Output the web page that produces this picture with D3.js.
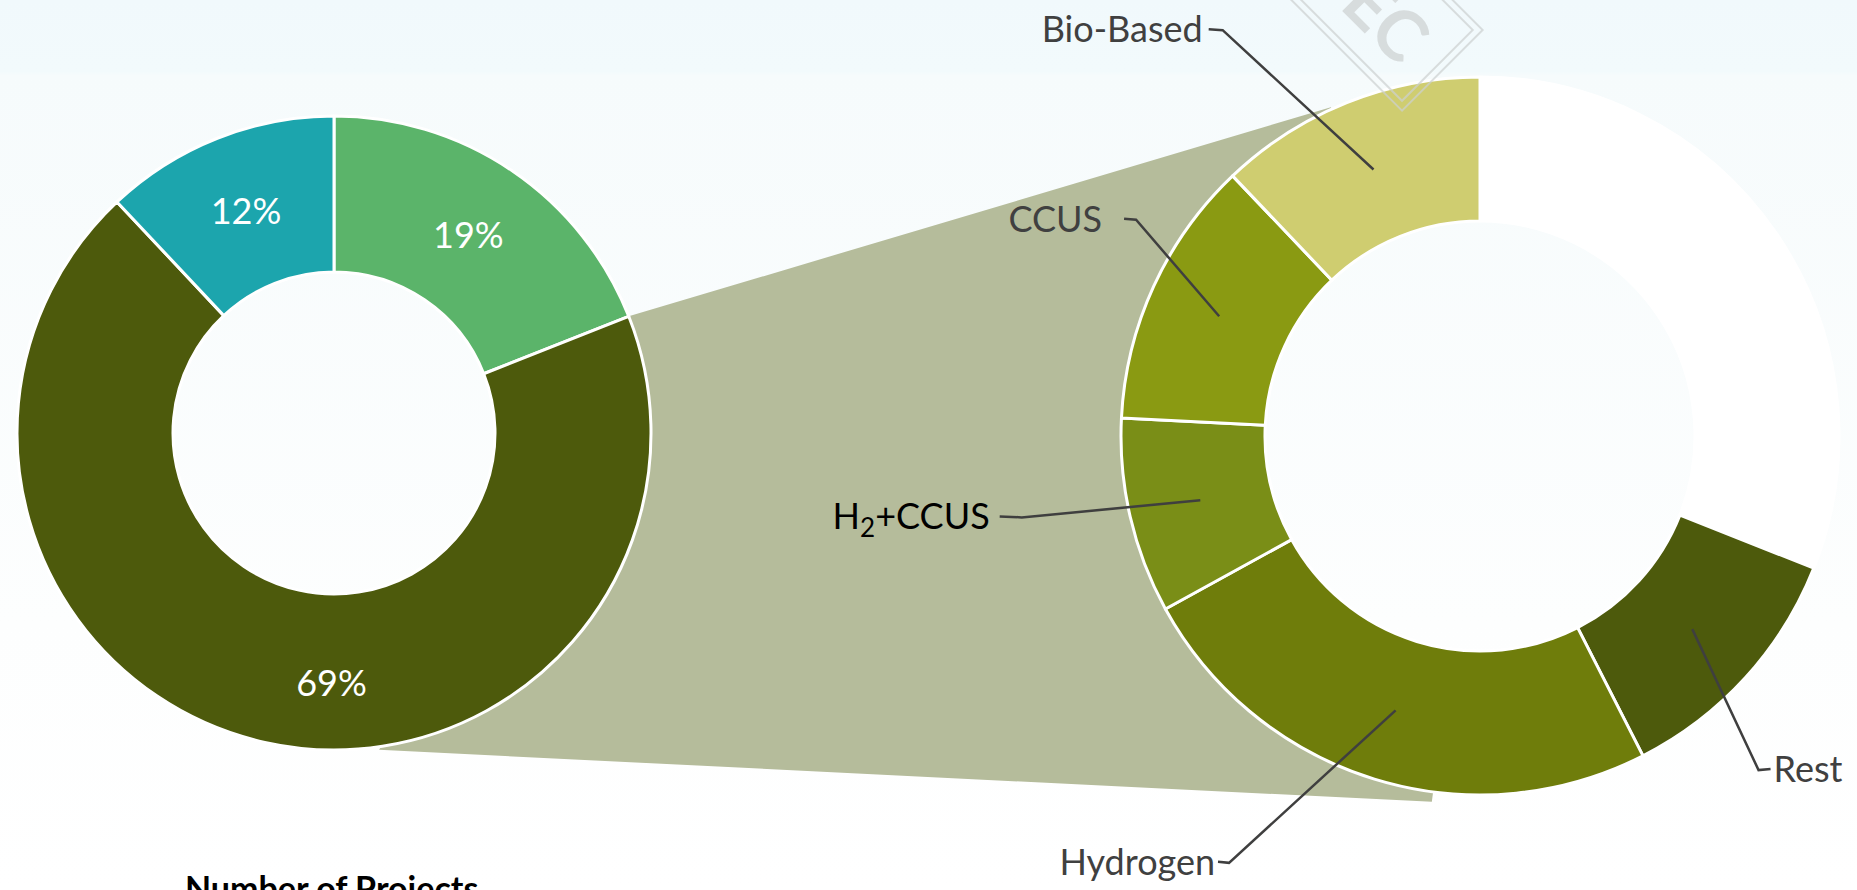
<!DOCTYPE html>
<html>
<head>
<meta charset="utf-8">
<script src="https://cdn.jsdelivr.net/npm/d3@7"></script>
<style>
  html, body { margin: 0; padding: 0; background: #fff; overflow: hidden; }
  svg { display: block; font-family: Lato, "Noto Sans", sans-serif; }
</style>
</head>
<body>
<svg id="chart"></svg>
<script>
// overall split of the projects, clockwise from 12 o'clock
const overviewLabels = ["19%", "69%", "12%"];
const overviewShares = [19, 69, 12];

// breakdown of the 69% slice (share of all projects), clockwise after the blank part
const breakdownNames = ["Rest", "Hydrogen", "H2+CCUS", "CCUS", "Bio-Based"];
const breakdownShares = [11.5, 24.5, 8.8, 12.1, 12.1];

const chartTitle = "Number of Projects";

const width = 1857;
const height = 890;

const overviewColors = ["#5BB46A", "#4D5A0C", "#1CA5AD"];
const breakdownColors = ["#4D5A0C", "#6F7D0B", "#7A8E17", "#8A9A12", "#CFCD70"];

const leftC = [334, 433];
const rightC = [1480, 436];
const deg = Math.PI / 180;

// callout layout: angle (deg) and radius of the tick start, tick length, gap to text
const calloutLayout = {
  "Bio-Based": { a: 326.3, r: 489, tick: 14, gap: 6 },
  "CCUS": { a: 301.4, r: 417, tick: 12, gap: 22 },
  "H2+CCUS": { a: 260.5, r: 487, tick: 22, gap: 10 },
  "Hydrogen": { a: 211.6, r: 500, tick: 11, gap: 3 },
  "Rest": { a: 138.9, r: 442, tick: 12, gap: 3 }
};

const svg = d3.select("#chart").attr("width", width).attr("height", height);

const defs = svg.append("defs");
const grad = defs
  .append("linearGradient")
  .attr("id", "bg")
  .attr("x1", 0).attr("y1", 0).attr("x2", 0).attr("y2", 1);
grad.append("stop").attr("offset", 0).attr("stop-color", "#F1F9FC");
grad.append("stop").attr("offset", 0.08).attr("stop-color", "#F2FAFC");
grad.append("stop").attr("offset", 0.085).attr("stop-color", "#F6FBFC");
grad.append("stop").attr("offset", 0.7).attr("stop-color", "#FDFEFE");
grad.append("stop").attr("offset", 1).attr("stop-color", "#FFFFFF");

svg.append("rect").attr("width", width).attr("height", height).attr("fill", "url(#bg)");

const polar = (c, r, a) => [c[0] + r * Math.sin(a), c[1] - r * Math.cos(a)];

const pie = d3.pie().sort(null).value((d) => d.value);

const leftData = pie(
  overviewShares.map((v, i) => ({ label: overviewLabels[i], value: v, color: overviewColors[i] }))
);
const blank = 100 - d3.sum(breakdownShares);
const rightData = pie(
  [{ name: null, value: blank, color: "#FFFFFF" }].concat(
    breakdownNames.map((n, i) => ({ name: n, value: breakdownShares[i], color: breakdownColors[i] }))
  )
);

const leftArc = d3.arc().innerRadius(161).outerRadius(317);
const rightArc = d3.arc().innerRadius(215).outerRadius(359);

// connector between the big slice and the breakdown ring
const big = leftData[1];
const rMid = 287;
const conn = d3.path();
conn.moveTo(...polar(leftC, 317, big.startAngle));
conn.lineTo(...polar(rightC, 361, 335.6 * deg));
conn.arc(rightC[0], rightC[1], rMid, (335.6 - 90) * deg, (187.5 - 90) * deg, true);
conn.lineTo(...polar(rightC, 369, 187.5 * deg));
conn.lineTo(...polar(leftC, 320, 171.9 * deg));
conn.closePath();
svg.append("path").attr("d", conn.toString()).attr("fill", "#B5BC9B");

// right ring
const right = svg.append("g").attr("transform", `translate(${rightC[0]},${rightC[1]})`);
right
  .selectAll("path")
  .data(rightData)
  .enter()
  .append("path")
  .attr("d", rightArc)
  .attr("fill", (d) => d.data.color)
  .attr("stroke", "#FFFFFF")
  .attr("stroke-width", 3)
  .attr("stroke-linejoin", "round");

// left ring
const left = svg.append("g").attr("transform", `translate(${leftC[0]},${leftC[1]})`);
left
  .selectAll("path")
  .data(leftData)
  .enter()
  .append("path")
  .attr("d", leftArc)
  .attr("fill", (d) => d.data.color)
  .attr("stroke", "#FFFFFF")
  .attr("stroke-width", 3)
  .attr("stroke-linejoin", "round");

left
  .selectAll("text")
  .data(leftData)
  .enter()
  .append("text")
  .attr("transform", (d) => {
    // the big slice carries its label at the bottom of the ring
    const p = d === big ? polar([0, 0], 250, Math.PI + 0.01) : leftArc.centroid(d);
    return `translate(${p[0]},${p[1]})`;
  })
  .attr("text-anchor", "middle")
  .attr("dy", "0.36em")
  .attr("fill", "#FFFFFF")
  .style("font-size", "36px")
  .text((d) => d.data.label);

// callouts for the breakdown ring
const callouts = svg.append("g");
rightData
  .filter((d) => d.data.name)
  .forEach((d) => {
    const lay = calloutLayout[d.data.name];
    const start = polar(rightC, lay.r, lay.a * deg);
    const side = start[0] < rightC[0] ? -1 : 1;
    const elbow = [start[0] - side * lay.tick, start[1] + 1];
    const c = rightArc.centroid(d);
    const tip = [rightC[0] + c[0], rightC[1] + c[1]];

    callouts
      .append("path")
      .attr("d", d3.line()([start, elbow, tip]))
      .attr("fill", "none")
      .attr("stroke", "#3F3F3F")
      .attr("stroke-width", 2.5);

    const t = callouts
      .append("text")
      .attr("x", start[0] + side * lay.gap)
      .attr("y", start[1])
      .attr("dy", "0.36em")
      .attr("text-anchor", side < 0 ? "end" : "start")
      .style("font-size", "36px");

    if (d.data.name === "H2+CCUS") {
      t.attr("fill", "#000000");
      t.append("tspan").text("H");
      t.append("tspan").attr("dy", 8).style("font-size", "26px").text("2");
      t.append("tspan").attr("dy", -8).text("+CCUS");
    } else {
      t.attr("fill", "#404040").text(d.data.name);
    }
  });

// faint watermark on top
const mark = svg.append("g").attr("opacity", 0.7);
const frame = mark.append("g").attr("transform", "translate(1361,-11) rotate(45)");
frame.append("rect").attr("x", -115).attr("y", -57).attr("width", 230).attr("height", 114)
  .attr("fill", "none").attr("stroke", "#CDD1D1").attr("stroke-width", 2);
frame.append("rect").attr("x", -108).attr("y", -50).attr("width", 216).attr("height", 100)
  .attr("fill", "none").attr("stroke", "#CDD1D1").attr("stroke-width", 2);
mark.append("text")
  .attr("transform", "translate(1401,34) rotate(45)")
  .attr("x", 22)
  .attr("dy", "0.36em")
  .attr("text-anchor", "end")
  .attr("fill", "#CDD1D1")
  .style("font-size", "70px")
  .style("font-weight", 700)
  .text("EC");

svg.append("text")
  .attr("x", 185)
  .attr("y", 901)
  .attr("fill", "#000000")
  .style("font-size", "34px")
  .style("font-weight", 700)
  .text(chartTitle);
</script>
</body>
</html>
